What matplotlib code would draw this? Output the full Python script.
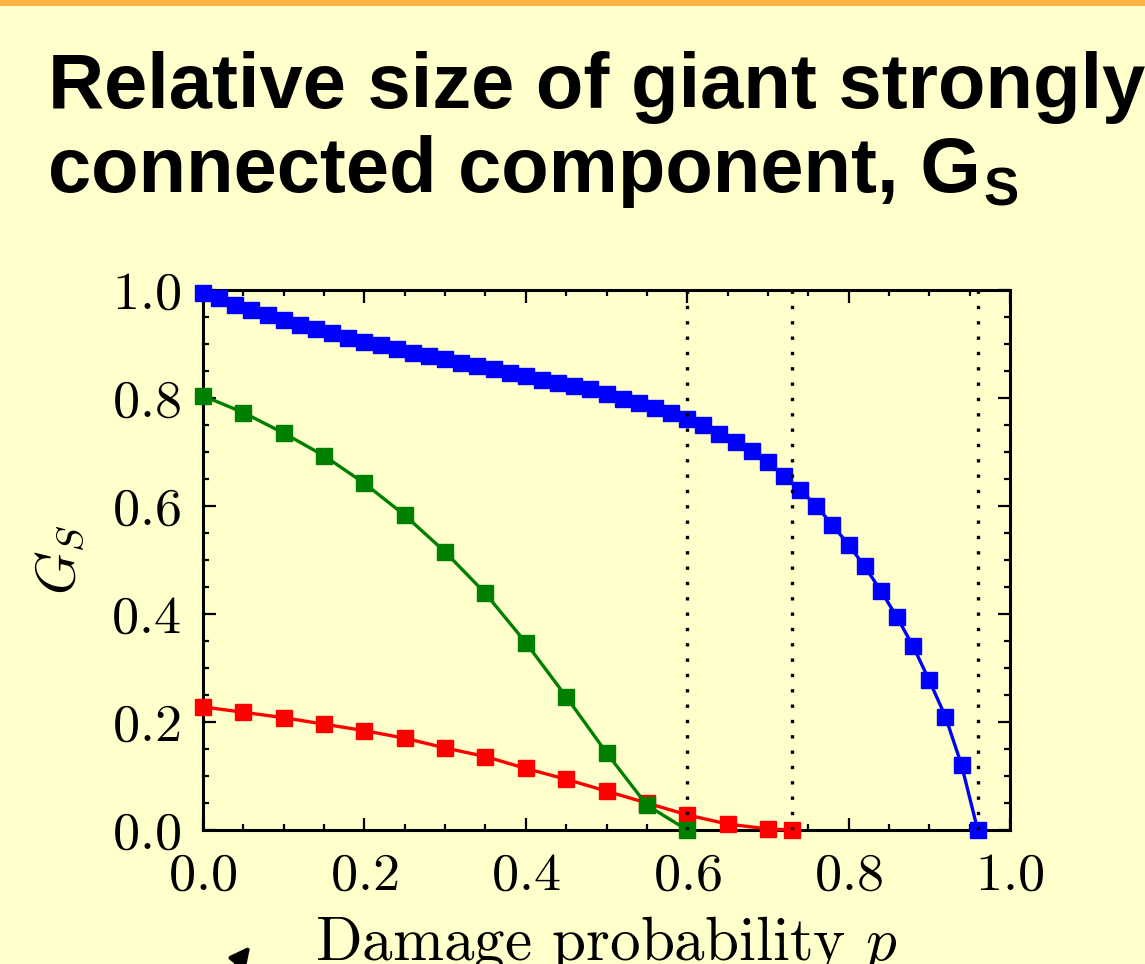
import matplotlib
matplotlib.use("Agg")
import matplotlib.pyplot as plt
import matplotlib.ticker as ticker
from matplotlib.patches import Rectangle

# --- data ---
p_blue = [0.00, 0.02, 0.04, 0.06, 0.08, 0.10, 0.12, 0.14, 0.16, 0.18,
          0.20, 0.22, 0.24, 0.26, 0.28, 0.30, 0.32, 0.34, 0.36, 0.38,
          0.40, 0.42, 0.44, 0.46, 0.48, 0.50, 0.52, 0.54, 0.56, 0.58,
          0.60, 0.62, 0.64, 0.66, 0.68, 0.70, 0.72, 0.74, 0.76, 0.78,
          0.80, 0.82, 0.84, 0.86, 0.88, 0.90, 0.92, 0.94, 0.96]
gs_blue = [0.995, 0.985, 0.972, 0.963, 0.954, 0.944, 0.935, 0.928, 0.920, 0.912,
           0.904, 0.898, 0.891, 0.884, 0.877, 0.872, 0.865, 0.859, 0.853, 0.847,
           0.841, 0.834, 0.828, 0.822, 0.817, 0.807, 0.799, 0.790, 0.781, 0.772,
           0.762, 0.750, 0.734, 0.719, 0.701, 0.681, 0.656, 0.630, 0.600, 0.565,
           0.528, 0.488, 0.443, 0.394, 0.340, 0.277, 0.210, 0.120, 0.000]

p_green = [0.00, 0.05, 0.10, 0.15, 0.20, 0.25, 0.30, 0.35, 0.40, 0.45, 0.50, 0.55, 0.60]
gs_green = [0.804, 0.773, 0.735, 0.693, 0.642, 0.583, 0.515, 0.438, 0.347, 0.247, 0.143, 0.046, 0.000]

p_red = [0.00, 0.05, 0.10, 0.15, 0.20, 0.25, 0.30, 0.35, 0.40, 0.45, 0.50, 0.55,
         0.60, 0.65, 0.70, 0.73]
gs_red = [0.228, 0.218, 0.208, 0.196, 0.184, 0.170, 0.152, 0.136, 0.114, 0.094,
          0.072, 0.050, 0.028, 0.011, 0.002, 0.000]

thresholds = [0.60, 0.73, 0.96]

BG = '#ffffcc'

plt.rcParams['font.family'] = 'serif'
plt.rcParams['font.serif'] = ['cmr10']
plt.rcParams['mathtext.fontset'] = 'cm'
plt.rcParams['axes.formatter.use_mathtext'] = True
plt.rcParams['axes.unicode_minus'] = False

fig = plt.figure(figsize=(11.45, 9.64), dpi=100, facecolor=BG)
W, H = 1145, 964

# orange strip along the top edge
fig.patches.append(Rectangle((0, 1 - 6 / H), 1, 6 / H, transform=fig.transFigure,
                             facecolor='#ffb347', edgecolor='none', zorder=0))

# title, two lines of bold sans
tfont = dict(family='Liberation Sans', weight='bold', fontsize=56, color='black')
fig.text(48 / W, 1 - 108 / H, 'Relative size of giant strongly', ha='left', va='baseline', **tfont)
line2 = fig.text(48 / W, 1 - 192 / H, 'connected component, G', ha='left', va='baseline', **tfont)

ax = fig.add_axes([203 / W, 1 - 830 / H, 807 / W, 540 / H], facecolor=BG)

ax.plot(p_red, gs_red, color='red', lw=2.4, marker='s', ms=12, mec='red', clip_on=False, zorder=3)
ax.plot(p_green, gs_green, color='green', lw=2.4, marker='s', ms=12, mec='green', clip_on=False, zorder=4)
ax.plot(p_blue, gs_blue, color='blue', lw=2.4, marker='s', ms=12, mec='blue', clip_on=False, zorder=5)
for t in thresholds:
    ax.axvline(t, color='black', ls=(0, (1, 3.6)), lw=2.4, zorder=6)

ax.set_xlim(0, 1)
ax.set_ylim(0, 1)
ax.set_xticks([0.0, 0.2, 0.4, 0.6, 0.8, 1.0])
ax.set_yticks([0.0, 0.2, 0.4, 0.6, 0.8, 1.0])
ax.xaxis.set_minor_locator(ticker.MultipleLocator(0.05))
ax.yaxis.set_minor_locator(ticker.MultipleLocator(0.05))
ax.tick_params(which='both', direction='in', top=True, right=True, width=1.6, colors='black')
ax.tick_params(which='major', length=9, labelsize=39, pad=16)
ax.tick_params(which='minor', length=4.5)
for s in ax.spines.values():
    s.set_linewidth(2.2)

ax.set_xlabel('Damage probability $p$', fontsize=44)
ax.xaxis.set_label_coords(0.5, -0.155)
ax.set_ylabel('$G_S$', fontsize=40)
ax.yaxis.set_label_coords(-0.145, 0.5)

# subscript S after the title G
fig.canvas.draw()
bb = line2.get_window_extent()
fig.text((bb.x1 + 3) / W, 1 - 205 / H, 'S', ha='left', va='baseline',
         family='Liberation Sans', weight='bold', fontsize=38, color='black')

# arrow tip entering from the bottom edge
ax.annotate('', xy=(252, 20), xycoords='figure pixels', xytext=(205, -40),
            textcoords='figure pixels', annotation_clip=False,
            arrowprops=dict(arrowstyle='-|>,head_length=1.2,head_width=0.6', color='black', lw=3))

fig.savefig('out.png', dpi=100, facecolor=BG)
